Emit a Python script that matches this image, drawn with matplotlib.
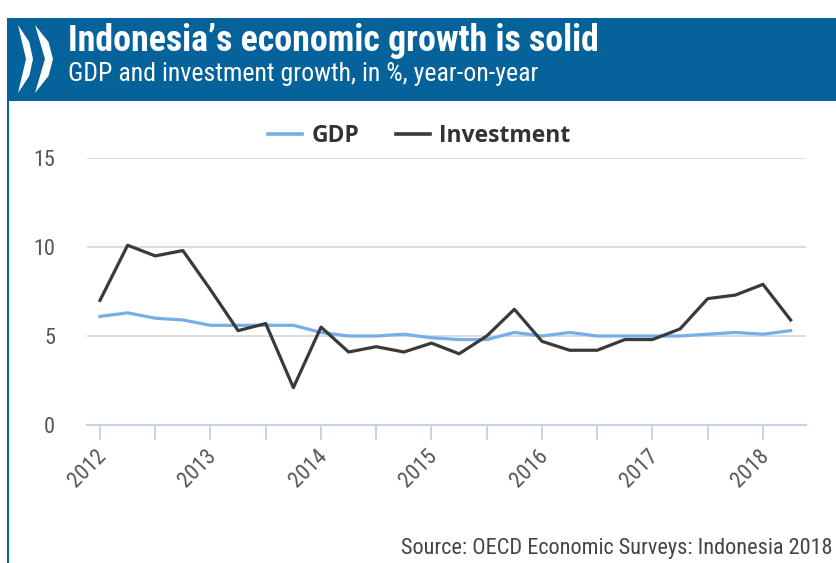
import matplotlib
matplotlib.use("Agg")
import numpy as np
import matplotlib.pyplot as plt
import matplotlib.transforms as mtransforms
from matplotlib import font_manager
from matplotlib.patches import Rectangle, Polygon


quarters = ["2012Q1", "2012Q2", "2012Q3", "2012Q4",
            "2013Q1", "2013Q2", "2013Q3", "2013Q4",
            "2014Q1", "2014Q2", "2014Q3", "2014Q4",
            "2015Q1", "2015Q2", "2015Q3", "2015Q4",
            "2016Q1", "2016Q2", "2016Q3", "2016Q4",
            "2017Q1", "2017Q2", "2017Q3", "2017Q4",
            "2018Q1", "2018Q2"]

gdp = [6.1, 6.3, 6.0, 5.9, 5.6, 5.6, 5.6, 5.6, 5.2, 5.0, 5.0, 5.1, 4.9,
       4.8, 4.8, 5.2, 5.0, 5.2, 5.0, 5.0, 5.0, 5.0, 5.1, 5.2, 5.1, 5.3]

investment = [7.0, 10.1, 9.5, 9.8, 7.6, 5.3, 5.7, 2.1, 5.5, 4.1, 4.4, 4.1, 4.6,
              4.0, 5.0, 6.5, 4.7, 4.2, 4.2, 4.8, 4.8, 5.4, 7.1, 7.3, 7.9, 5.9]

year_labels = ["2012", "2013", "2014", "2015", "2016", "2017", "2018"]
y_ticks = [0, 5, 10, 15]

HEADER_BLUE = "#05629b"
GDP_BLUE = "#76afe8"
INV_GREY = "#3a3a3a"
TEXT_GREY = "#555555"

W, H = 837, 563

# pick a narrow family if one is around, the original uses a condensed face
names = {f.name for f in font_manager.fontManager.ttflist}
narrow = next((n for n in ["Liberation Sans Narrow", "Roboto Condensed",
                           "Open Sans Condensed"] if n in names), None)
main_font = narrow if narrow else "Open Sans"
tick_size = 16 if narrow else 14.5

plt.rcParams["font.family"] = [main_font, "DejaVu Sans"]

x = np.array([int(q[:4]) + (int(q[-1]) - 1) / 4 for q in quarters])

fig = plt.figure(figsize=(W / 100, H / 100), dpi=100)

# decoration layer in pixel coordinates
deco = fig.add_axes([0, 0, 1, 1], zorder=0)
deco.set_xlim(0, W)
deco.set_ylim(H, 0)
deco.axis("off")

deco.add_patch(Rectangle((7, 18), W - 7, 83, color=HEADER_BLUE, lw=0))
deco.add_patch(Rectangle((7, 18), 2.2, H - 18, color=HEADER_BLUE, lw=0))

# OECD chevrons
for x0, w, t in [(18, 15, 7), (35, 18, 8)]:
    deco.add_patch(Polygon([(x0, 25), (x0 + w * 0.75, 42), (x0 + w, 59),
                            (x0 + w * 0.75, 76), (x0, 93),
                            (x0 + w - t, 59)],
                           closed=True, color="white", lw=0))

title = deco.text(68, 51, "Indonesia\u2019s economic growth is solid", color="white",
                  fontsize=22, fontweight="bold", ha="left", va="baseline")
subtitle = deco.text(68, 81, "GDP and investment growth, in %, year-on-year",
                     color="white", fontsize=14, ha="left", va="baseline")
source = deco.text(833, 554, "Source: OECD Economic Surveys: Indonesia 2018",
                   color="#444444", fontsize=12, ha="right", va="baseline")

# main chart
ax = fig.add_axes([87 / W, 1 - 425 / H, (806 - 87) / W, (425 - 158) / H], zorder=1)
ax.patch.set_alpha(0)

ax.plot(x, gdp, color=GDP_BLUE, lw=2.3, label="GDP", zorder=3)
ax.plot(x, investment, color=INV_GREY, lw=2.3, label="Investment", zorder=4)

ax.set_xlim(2012 - 13 / 110.5, 2012 + 706 / 110.5)
ax.set_ylim(0, 15)

tick_pos = np.arange(2012, 2018.01, 0.5)
ax.set_xticks(tick_pos)
ax.set_xticklabels([year_labels[int(p) - 2012] if p == int(p) else "" for p in tick_pos],
                   rotation=45, ha="right", va="center", rotation_mode="anchor")
ax.set_yticks(y_ticks)
ax.set_yticklabels([str(v) for v in y_ticks])

ax.tick_params(axis="x", length=11, width=1.4, color="#c5d5e5", pad=9,
               labelsize=tick_size, labelcolor=TEXT_GREY)
ax.tick_params(axis="y", length=0, pad=23, labelsize=tick_size, labelcolor=TEXT_GREY)

# nudge the rotated year labels a little to the right
shift = mtransforms.ScaledTranslation(3 / 100, 0, fig.dpi_scale_trans)
for lab in ax.get_xticklabels():
    lab.set_transform(lab.get_transform() + shift)

ax.grid(axis="y", color="#d9d9d9", lw=1.3)
ax.set_axisbelow(True)
for s in ["top", "right", "left"]:
    ax.spines[s].set_visible(False)
ax.spines["bottom"].set_color("#c5d5e5")
ax.spines["bottom"].set_linewidth(1.6)
ax.spines["bottom"].set_zorder(2)

leg = fig.legend(loc="center", bbox_to_anchor=(419 / W, 1 - 136 / H), ncol=2,
                 frameon=False, handlelength=1.5, handletextpad=0.4,
                 columnspacing=1.6, prop={"family": "Open Sans", "weight": "bold", "size": 16.5})
for t in leg.get_texts():
    t.set_color("#333333")
for h in leg.get_lines():
    h.set_linewidth(2.6)

# size header and source text by their measured width
fig.canvas.draw()
r = fig.canvas.get_renderer()
for txt, target in [(title, 530), (subtitle, 475), (source, 430)]:
    w = txt.get_window_extent(r).width
    txt.set_fontsize(txt.get_fontsize() * target / w)

fig.savefig("out.png", dpi=100)
